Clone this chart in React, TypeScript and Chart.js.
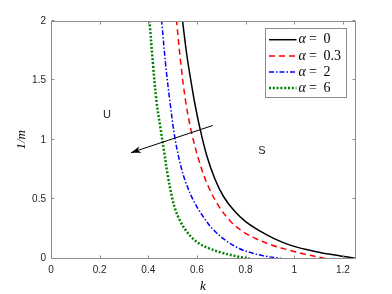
import React, { useEffect, useRef } from "react";
import { Chart, registerables } from "chart.js";

Chart.register(...registerables);

// ---- data ----
const kAlpha0 = [0.535, 0.541, 0.558, 0.575, 0.59, 0.612, 0.64, 0.674, 0.71, 0.75, 0.8, 0.86, 0.92, 0.98, 1.05, 1.12, 1.19, 1.25];
const mAlpha0 = [2.1, 2.0, 1.72, 1.5, 1.32, 1.1, 0.87, 0.67, 0.52, 0.41, 0.31, 0.23, 0.165, 0.115, 0.075, 0.045, 0.022, 0.003];

const kAlpha03 = [0.51, 0.516, 0.535, 0.554, 0.578, 0.612, 0.646, 0.687, 0.735, 0.79, 0.85, 0.913, 0.98, 1.05, 1.13];
const mAlpha03 = [2.1, 2.0, 1.62, 1.32, 1.06, 0.8, 0.61, 0.45, 0.32, 0.225, 0.16, 0.11, 0.07, 0.033, 0.0];

const kAlpha2 = [0.45, 0.455, 0.472, 0.489, 0.509, 0.53, 0.55, 0.584, 0.625, 0.666, 0.72, 0.776, 0.82, 0.88, 0.947];
const mAlpha2 = [2.1, 2.0, 1.62, 1.32, 1.02, 0.81, 0.665, 0.495, 0.355, 0.245, 0.15, 0.082, 0.05, 0.02, 0.0];

const kAlpha6 = [0.4, 0.405, 0.42, 0.434, 0.45, 0.465, 0.48, 0.495, 0.51, 0.53, 0.555, 0.58, 0.61, 0.65, 0.7, 0.76, 0.817];
const mAlpha6 = [2.1, 2.0, 1.62, 1.32, 1.1, 0.9, 0.7, 0.54, 0.42, 0.32, 0.235, 0.175, 0.125, 0.085, 0.05, 0.02, 0.0];

const legendValues = ["0", "0.3", "2", "6"];
const xTicks = [0, 0.2, 0.4, 0.6, 0.8, 1, 1.2];
const yTicks = [0, 0.5, 1, 1.5, 2];

const arrowK = [0.665, 0.329];
const arrowM = [1.12, 0.891];

const regionText = ["U", "S"];
const regionK = [0.23, 0.867];
const regionM = [1.208, 0.905];

const toPts = (ks: number[], ms: number[]) => ks.map((k, i) => ({ x: k, y: ms[i] }));

const AXIS = "#8c8c8c";
const TEXT = "#262626";

const styles = [
  { color: "#000000", dash: [] as number[], width: 1.5 },
  { color: "#ff0000", dash: [6, 4], width: 1.5 },
  { color: "#0000ff", dash: [5, 2, 1.5, 2], width: 1.5 },
  { color: "#008000", dash: [2, 1.8], width: 2.5 },
];

const overlay = {
  id: "overlay",
  afterDraw(chart: any) {
    const { ctx, chartArea: a, scales } = chart;
    const x = scales.x;
    const y = scales.y;
    ctx.save();
    // box
    const L = Math.round(a.left) + 0.5;
    const R = Math.round(a.right) + 0.5;
    const T = Math.round(a.top) + 0.5;
    const B = Math.round(a.bottom) - 0.5;
    ctx.strokeStyle = AXIS;
    ctx.lineWidth = 1;
    ctx.setLineDash([]);
    ctx.beginPath();
    ctx.rect(L, T, R - L, B - T);
    ctx.stroke();
    // inward ticks
    ctx.beginPath();
    xTicks.forEach((v) => {
      const px = Math.round(x.getPixelForValue(v)) + 0.5;
      ctx.moveTo(px, B);
      ctx.lineTo(px, B - 3);
      ctx.moveTo(px, T);
      ctx.lineTo(px, T + 3);
    });
    yTicks.forEach((v) => {
      const py = Math.round(y.getPixelForValue(v)) - 0.5;
      ctx.moveTo(L, py);
      ctx.lineTo(L + 3, py);
      ctx.moveTo(R, py);
      ctx.lineTo(R - 3, py);
    });
    ctx.stroke();

    // arrow head
    const x0 = x.getPixelForValue(arrowK[0]);
    const y0 = y.getPixelForValue(arrowM[0]);
    const x1 = x.getPixelForValue(arrowK[1]);
    const y1 = y.getPixelForValue(arrowM[1]);
    const ang = Math.atan2(y1 - y0, x1 - x0);
    const len = 10;
    const hw = 3.5;
    const ca = Math.cos(ang);
    const sa = Math.sin(ang);
    const bx = x1 - len * ca;
    const by = y1 - len * sa;
    const nx = x1 - (len - 3) * ca;
    const ny = y1 - (len - 3) * sa;
    ctx.fillStyle = "#000";
    ctx.beginPath();
    ctx.moveTo(x1, y1);
    ctx.lineTo(bx - hw * sa, by + hw * ca);
    ctx.lineTo(nx, ny);
    ctx.lineTo(bx + hw * sa, by - hw * ca);
    ctx.closePath();
    ctx.fill();

    // region labels
    ctx.fillStyle = TEXT;
    ctx.font = "11px 'Liberation Sans', Arial, sans-serif";
    ctx.textAlign = "center";
    ctx.textBaseline = "middle";
    regionText.forEach((t, i) => {
      ctx.fillText(t, x.getPixelForValue(regionK[i]), y.getPixelForValue(regionM[i]));
    });

    // legend
    const lx = Math.round(a.right) - 9 + 0.5;
    const boxL = 266 - 0.5 + (a.right - 355);
    const boxT = Math.round(a.top) + 8 - 0.5;
    const boxW = lx - boxL;
    const boxH = 69;
    ctx.fillStyle = "#fff";
    ctx.fillRect(boxL, boxT, boxW, boxH);
    ctx.strokeStyle = AXIS;
    ctx.lineWidth = 1;
    ctx.setLineDash([]);
    ctx.strokeRect(boxL, boxT, boxW, boxH);
    const rowY = [39.7, 56, 72, 88];
    const s0 = boxL + 3.5;
    const s1 = s0 + 27.5;
    legendValues.forEach((v, i) => {
      const st = styles[i];
      const ry = rowY[i] + (a.top - 21);
      ctx.strokeStyle = st.color;
      ctx.lineWidth = st.width;
      ctx.setLineDash(st.dash);
      ctx.beginPath();
      ctx.moveTo(s0, ry);
      ctx.lineTo(s1, ry);
      ctx.stroke();
      ctx.setLineDash([]);
      ctx.fillStyle = "#000";
      ctx.textAlign = "left";
      ctx.textBaseline = "middle";
      ctx.font = "italic 14px 'Liberation Serif', serif";
      ctx.fillText("\u03b1", s1 + 2, ry);
      ctx.font = "14px 'Liberation Serif', serif";
      ctx.fillText("=", s1 + 12.5, ry);
      ctx.fillText(v, s1 + 27, ry);
    });
    ctx.restore();
  },
};

export default function App() {
  const ref = useRef<HTMLCanvasElement>(null);
  useEffect(() => {
    if (!ref.current) return;
    Chart.defaults.font.family = "'Liberation Sans', Arial, sans-serif";
    const series = [
      toPts(kAlpha0, mAlpha0),
      toPts(kAlpha03, mAlpha03),
      toPts(kAlpha2, mAlpha2),
      toPts(kAlpha6, mAlpha6),
    ];
    const datasets: any[] = [
      {
        label: "arrow",
        data: toPts(arrowK, arrowM),
        showLine: true,
        borderColor: "#000",
        borderWidth: 1,
        pointRadius: 0,
        tension: 0,
      },
      ...series.map((d, i) => ({
        label: "\u03b1 = " + legendValues[i],
        data: d,
        showLine: true,
        borderColor: styles[i].color,
        borderDash: styles[i].dash,
        borderWidth: styles[i].width,
        pointRadius: 0,
        tension: 0.35,
        fill: false,
      })),
    ];
    const chart = new Chart(ref.current, {
      type: "scatter",
      data: { datasets },
      options: {
        animation: false,
        responsive: false,
        devicePixelRatio: 1,
        layout: { padding: { top: 21, right: 37, left: 0, bottom: 0 } },
        plugins: { legend: { display: false }, tooltip: { enabled: false } },
        scales: {
          x: {
            type: "linear",
            min: 0,
            max: 1.25,
            grid: { display: false, drawTicks: false },
            border: { display: false },
            afterBuildTicks: (s: any) => {
              s.ticks = xTicks.map((v) => ({ value: v }));
            },
            afterFit: (s: any) => {
              s.height = 35.5;
            },
            ticks: {
              color: TEXT,
              font: { size: 10 },
              padding: 6,
              maxRotation: 0,
              autoSkip: false,
              callback: (v: any) => String(Number(v)),
            },
            title: {
              display: true,
              text: "k",
              color: "#000",
              font: { family: "'Liberation Serif', serif", style: "italic", size: 13 },
              padding: { top: 0, bottom: 0 },
            },
          },
          y: {
            type: "linear",
            min: 0,
            max: 2,
            grid: { display: false, drawTicks: false },
            border: { display: false },
            afterBuildTicks: (s: any) => {
              s.ticks = yTicks.map((v) => ({ value: v }));
            },
            afterFit: (s: any) => {
              s.width = 51;
            },
            ticks: {
              color: TEXT,
              font: { size: 10 },
              padding: 5,
              autoSkip: false,
              callback: (v: any) => String(Number(v)),
            },
            title: {
              display: true,
              text: "1/m",
              color: "#000",
              font: { family: "'Liberation Serif', serif", style: "italic", size: 13 },
              padding: { top: 14, bottom: 0 },
            },
          },
        },
      },
      plugins: [overlay],
    } as any);
    return () => chart.destroy();
  }, []);
  return (
    <div style={{ position: "absolute", left: 0, top: 0, width: 392, height: 294, background: "#fff" }}>
      <canvas ref={ref} width={392} height={294} style={{ display: "block" }} />
    </div>
  );
}
